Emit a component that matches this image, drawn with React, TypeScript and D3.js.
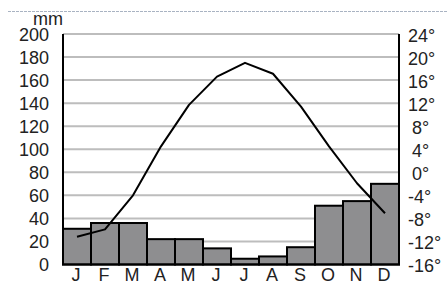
import * as React from 'react';
import * as d3 from 'd3';

const MONTHS = ['J', 'F', 'M', 'A', 'M', 'J', 'J', 'A', 'S', 'O', 'N', 'D'];
// precipitation, mm
const PRECIP = [31, 36, 36, 22, 22, 14, 5, 7, 15, 51, 55, 70];
// temperature, degrees C
const TEMP = [-11.2, -9.9, -4, 4.5, 11.7, 16.6, 19, 17.1, 11.4, 4.5, -1.9, -7.1];
const MM_TICKS = [0, 20, 40, 60, 80, 100, 120, 140, 160, 180, 200];
const TEMP_TICKS = [-16, -12, -8, -4, 0, 4, 8, 12, 16, 20, 24];

const WIDTH = 448;
const HEIGHT = 282;
const MARGINS = { top: 34, left: 63, right: 49, bottom: 17.5 };
const FONT = '"Liberation Sans", Arial, sans-serif';

export default function App() {
    const ref = React.useRef<SVGSVGElement>(null);

    React.useEffect(() => {
        const svg = d3.select(ref.current);
        svg.selectAll('*').remove();

        const x0 = MARGINS.left, x1 = WIDTH - MARGINS.right;
        const y0 = HEIGHT - MARGINS.bottom, y1 = MARGINS.top;

        const xScale = d3.scaleBand<number>().domain(d3.range(12)).range([x0, x1]).padding(0);
        const yScale = d3.scaleLinear().domain([0, 200]).range([y0, y1]);
        const tScale = d3.scaleLinear().domain([-16, 24]).range([y0, y1]);

        // dashed rule at the very top
        svg.append('line')
            .attr('x1', 8).attr('x2', WIDTH)
            .attr('y1', 11.5).attr('y2', 11.5)
            .attr('stroke', '#a9b3c2').attr('stroke-width', 1)
            .attr('stroke-dasharray', '3,1');

        // horizontal grid
        svg.append('g').selectAll('line')
            .data(MM_TICKS.filter(d => d > 0))
            .join('line')
            .attr('x1', x0).attr('x2', x1)
            .attr('y1', d => yScale(d)).attr('y2', d => yScale(d))
            .attr('stroke', '#bdbdbd').attr('stroke-width', 2);

        // bars
        svg.append('g').selectAll('rect')
            .data(PRECIP)
            .join('rect')
            .attr('x', (d, i) => xScale(i)!)
            .attr('y', d => yScale(d))
            .attr('width', xScale.bandwidth())
            .attr('height', d => y0 - yScale(d))
            .attr('fill', '#8e8e90')
            .attr('stroke', '#000').attr('stroke-width', 2);

        // temperature line
        const line = d3.line<number>()
            .x((d, i) => xScale(i)! + xScale.bandwidth() / 2)
            .y(d => tScale(d));
        svg.append('path')
            .datum(TEMP)
            .attr('d', line)
            .attr('fill', 'none')
            .attr('stroke', '#000').attr('stroke-width', 2)
            .attr('stroke-linejoin', 'round');

        // axes lines
        svg.append('path')
            .attr('d', `M${x0},${y1}V${y0}H${x1}V${y1}`)
            .attr('fill', 'none')
            .attr('stroke', '#000').attr('stroke-width', 2);

        // left labels
        svg.append('g').selectAll('text')
            .data(MM_TICKS)
            .join('text')
            .attr('x', 49).attr('y', d => yScale(d) + 6.5)
            .attr('text-anchor', 'end')
            .text(d => d);

        svg.append('text')
            .attr('x', 33).attr('y', 25)
            .text('mm');

        // right labels
        svg.append('g').selectAll('text')
            .data(TEMP_TICKS)
            .join('text')
            .attr('x', d => (d >= 0 && d < 10 ? 412 : 408))
            .attr('y', d => tScale(d) + 7.5)
            .text(d => d + '°');

        // month labels
        svg.append('g').selectAll('text')
            .data(MONTHS)
            .join('text')
            .attr('x', (d, i) => xScale(i)! + xScale.bandwidth() / 2 - 1)
            .attr('y', 281)
            .attr('text-anchor', 'middle')
            .text(d => d);

        svg.selectAll('text')
            .attr('font-family', FONT)
            .attr('font-size', 18)
            .attr('fill', '#222');
    }, []);

    return (
        <svg ref={ref} width={WIDTH} height={HEIGHT}
            style={{ position: 'absolute', left: 0, top: 0, background: '#fff' }} />
    );
}
